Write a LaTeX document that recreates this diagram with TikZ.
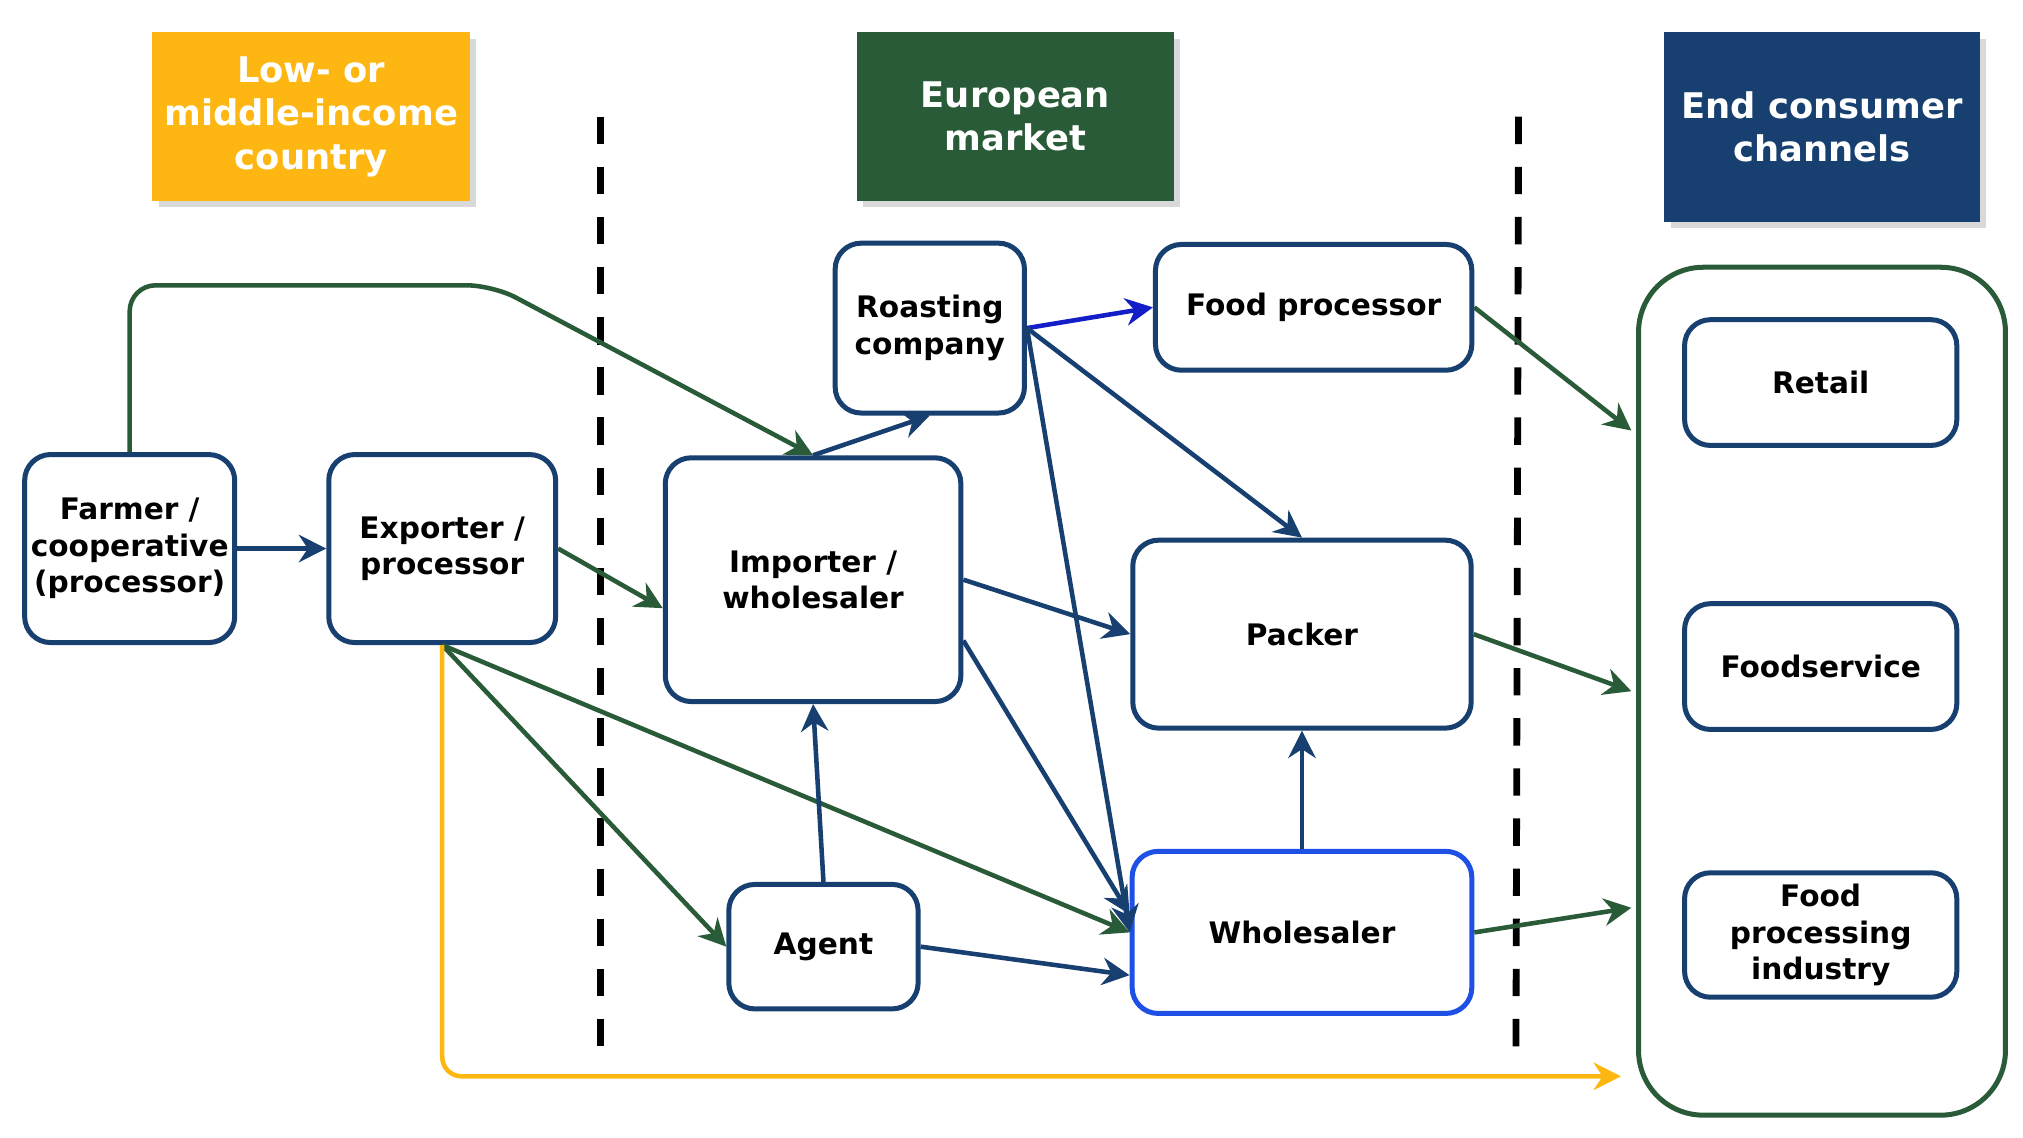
\documentclass[tikz,border=0pt]{standalone}
\usepackage{fontspec}
\setmainfont{DejaVu Sans}
\usetikzlibrary{arrows.meta,shadows}
\definecolor{orng}{RGB}{254,183,18}
\definecolor{grn}{RGB}{42,91,56}
\definecolor{navy}{RGB}{23,64,112}
\definecolor{brightblue}{RGB}{30,80,230}
\definecolor{roastblue}{RGB}{20,30,200}
\tikzset{font=\fontsize{13}{16}\selectfont\bfseries}
\tikzstyle{hdr}=[text=white,align=center,font=\fontsize{15.5}{19}\selectfont\bfseries,drop shadow={opacity=0.3}]
\tikzstyle{box}=[draw=navy,line width=2.2pt,rounded corners=0.4cm,align=center,fill=white,inner sep=2pt]
\tikzstyle{nav}=[->,draw=navy,line width=2pt,>={Stealth[length=12pt,width=12pt]}]
\tikzstyle{grr}=[->,draw=grn,line width=2pt,>={Stealth[length=12pt,width=12pt]}]
\begin{document}
\begin{tikzpicture}[x=0.02cm,y=-0.02cm]
\useasboundingbox (0,0) rectangle (1560,877);
% headers
\node[hdr,fill=orng,minimum width=4.9cm,minimum height=2.6cm] (low) at (240,90) {Low- or\\middle-income\\country};
\node[hdr,fill=grn,minimum width=4.9cm,minimum height=2.6cm] (eur) at (783,90) {European\\market};
\node[hdr,fill=navy,minimum width=4.86cm,minimum height=2.92cm] (end) at (1405,98) {End consumer\\channels};
% borders
\draw[line width=3pt,dash pattern=on 12pt off 10pt] (463,90) -- (463,812);
\draw[line width=3pt,dash pattern=on 12pt off 10pt] (1171,90) -- (1169,812);
% channels
\node[draw=grn,line width=2.2pt,rounded corners=1cm,minimum width=5.66cm,minimum height=13.08cm] (chan) at (1405,533) {};
\node[box,minimum width=4.2cm,minimum height=1.94cm] (ret) at (1404,295) {Retail};
\node[box,minimum width=4.2cm,minimum height=1.94cm] (fs) at (1404,514) {Foodservice};
\node[box,minimum width=4.2cm,minimum height=1.92cm] (fpi) at (1404,721) {Food\\processing\\industry};
% chain
\node[box,minimum width=3.24cm,minimum height=2.9cm] (farm) at (100,423) {Farmer /\\cooperative\\(processor)};
\node[box,minimum width=3.5cm,minimum height=2.9cm] (exp) at (341,423) {Exporter /\\processor};
\node[box,minimum width=4.56cm,minimum height=3.76cm] (imp) at (627,447) {Importer /\\wholesaler};
\node[box,minimum width=2.92cm,minimum height=2.62cm] (roast) at (717,253) {Roasting\\company};
\node[box,minimum width=4.88cm,minimum height=1.94cm] (fp) at (1013,237) {Food processor};
\node[box,minimum width=5.22cm,minimum height=2.9cm] (pack) at (1004,489) {Packer};
\node[box,draw=brightblue,minimum width=5.24cm,minimum height=2.5cm] (whole) at (1004,719) {Wholesaler};
\node[box,minimum width=2.92cm,minimum height=1.92cm] (agent) at (635,730) {Agent};
\coordinate (c1) at (1258,332);
\coordinate (c2) at (1258,533);
\coordinate (c3) at (1258,700);
\coordinate (c4) at (1250,830);
% connectors
\draw[grr,rounded corners=0.4cm] (farm.north) -- (100,220) -- (380,220) -- (imp.north);
\draw[nav] (farm) -- (exp);
\draw[grr] (exp.east) -- ([yshift=-0.44cm]imp.west);
\draw[nav] (imp.north) -- (roast.south);
\draw[->,draw=roastblue,line width=2pt,>={Stealth[length=12pt,width=12pt]}] (roast.east) -- (fp.west);
\draw[nav] (roast.east) -- (pack.north);
\draw[nav] (roast.east) -- (whole.west);
\draw[nav] (imp.east) -- (pack.west);
\draw[nav] ([yshift=-0.94cm]imp.east) -- ([yshift=0.28cm]whole.west);
\draw[grr] (exp.south) -- (agent.west);
\draw[grr] (exp.south) -- (whole.west);
\draw[->,draw=orng,line width=2pt,>={Stealth[length=12pt,width=12pt]},rounded corners=0.3cm] (exp.south) -- (341,830) -- (c4);
\draw[nav] (agent.north) -- (imp.south);
\draw[nav] (agent.east) -- ([yshift=-0.66cm]whole.west);
\draw[nav] (whole.north) -- (pack.south);
\draw[grr] (fp.east) -- (c1);
\draw[grr] (pack.east) -- (c2);
\draw[grr] (whole.east) -- (c3);
\end{tikzpicture}
\end{document}
